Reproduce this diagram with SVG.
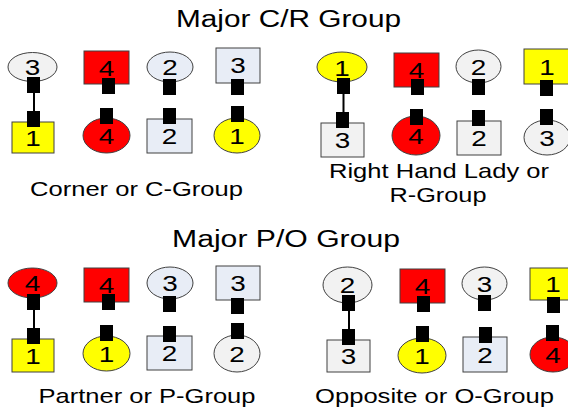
<svg xmlns="http://www.w3.org/2000/svg" xmlns:xlink="http://www.w3.org/1999/xlink" width="568" height="410" viewBox="0 0 568 410">
<style>
  .sh { stroke: #404040; stroke-width: 1; }
  .red { fill: #ff0000; }
  .yel { fill: #ffff00; }
  .gry { fill: #f2f2f2; }
  .blu { fill: #e8edf6; }
  .d { font-family: "Liberation Sans", Arial, sans-serif; font-size: 22.5px; fill: #000; text-anchor: middle; }
  .lbl { font-family: "Liberation Sans", Arial, sans-serif; font-size: 21px; fill: #000; text-anchor: middle; }
  .ttl { font-family: "Liberation Sans", Arial, sans-serif; font-size: 23.5px; fill: #000; text-anchor: middle; }
  .link { stroke: #000; stroke-width: 2; fill: none; }
</style>
<defs>
  <rect id="hand" width="13" height="16" fill="#000"/>
</defs>
<rect width="568" height="410" fill="#ffffff"/>

<text class="ttl" x="288.5" y="27" textLength="225" lengthAdjust="spacingAndGlyphs">Major C/R Group</text>
<text class="lbl" x="136.5" y="196" textLength="213" lengthAdjust="spacingAndGlyphs">Corner or C-Group</text>
<text class="lbl" x="439" y="178" textLength="220" lengthAdjust="spacingAndGlyphs">Right Hand Lady or</text>
<text class="lbl" x="438" y="202" textLength="97" lengthAdjust="spacingAndGlyphs">R-Group</text>
<text class="ttl" x="286" y="247" textLength="228" lengthAdjust="spacingAndGlyphs">Major P/O Group</text>
<text class="lbl" x="147" y="403" textLength="217" lengthAdjust="spacingAndGlyphs">Partner or P-Group</text>
<text class="lbl" x="434.5" y="403" textLength="239" lengthAdjust="spacingAndGlyphs">Opposite or O-Group</text>

<g id="connectors">
  <line class="link" x1="34" y1="92" x2="34" y2="112"/>
  <line class="link" x1="343.5" y1="93" x2="343.5" y2="113"/>
  <line class="link" x1="34" y1="309" x2="34" y2="329"/>
  <line class="link" x1="349" y1="310" x2="349" y2="330"/>
</g>

<!-- C group -->
<g id="c1-top"><ellipse class="sh gry" cx="32.5" cy="67" rx="24.5" ry="14.5"/><text class="d" x="32.5" y="75" textLength="15.5" lengthAdjust="spacingAndGlyphs">3</text><use xlink:href="#hand" x="27" y="77"/></g>
<g id="c1-bot"><rect class="sh yel" x="12" y="122" width="42" height="31"/><text class="d" x="33" y="145.5" textLength="15.5" lengthAdjust="spacingAndGlyphs">1</text><use xlink:href="#hand" x="27" y="111"/></g>
<g id="c2-top"><rect class="sh red" x="84" y="51" width="45" height="33"/><text class="d" x="106.5" y="75.5" textLength="15.5" lengthAdjust="spacingAndGlyphs">4</text><use xlink:href="#hand" x="102" y="78"/></g>
<g id="c2-bot"><ellipse class="sh red" cx="106.5" cy="135.5" rx="23.5" ry="17.5"/><text class="d" x="106.5" y="143.5" textLength="15.5" lengthAdjust="spacingAndGlyphs">4</text><use xlink:href="#hand" x="100" y="108"/></g>
<g id="c3-top"><ellipse class="sh blu" cx="170" cy="67" rx="23" ry="15"/><text class="d" x="170" y="75" textLength="15.5" lengthAdjust="spacingAndGlyphs">2</text><use xlink:href="#hand" x="163" y="79"/></g>
<g id="c3-bot"><rect class="sh blu" x="147" y="119" width="45" height="34"/><text class="d" x="169.5" y="144" textLength="15.5" lengthAdjust="spacingAndGlyphs">2</text><use xlink:href="#hand" x="163" y="108"/></g>
<g id="c4-top"><rect class="sh blu" x="216" y="48" width="44" height="35"/><text class="d" x="238" y="73" textLength="15.5" lengthAdjust="spacingAndGlyphs">3</text><use xlink:href="#hand" x="231" y="79"/></g>
<g id="c4-bot"><ellipse class="sh yel" cx="237" cy="135.5" rx="23" ry="17.5"/><text class="d" x="237" y="143.5" textLength="15.5" lengthAdjust="spacingAndGlyphs">1</text><use xlink:href="#hand" x="231" y="106"/></g>

<!-- R group -->
<g id="r1-top"><ellipse class="sh yel" cx="342" cy="67" rx="25" ry="15"/><text class="d" x="342" y="75.5" textLength="15.5" lengthAdjust="spacingAndGlyphs">1</text><use xlink:href="#hand" x="337" y="78"/></g>
<g id="r1-bot"><rect class="sh gry" x="321" y="123" width="43" height="34"/><text class="d" x="342.5" y="147.5" textLength="15.5" lengthAdjust="spacingAndGlyphs">3</text><use xlink:href="#hand" x="336" y="112"/></g>
<g id="r2-top"><rect class="sh red" x="394" y="53" width="45" height="34"/><text class="d" x="416.5" y="77.5" textLength="15.5" lengthAdjust="spacingAndGlyphs">4</text><use xlink:href="#hand" x="411" y="79"/></g>
<g id="r2-bot"><ellipse class="sh red" cx="416" cy="135.5" rx="24" ry="19.5"/><text class="d" x="416" y="144" textLength="15.5" lengthAdjust="spacingAndGlyphs">4</text><use xlink:href="#hand" x="410" y="109"/></g>
<g id="r3-top"><ellipse class="sh gry" cx="478.5" cy="66.5" rx="22.5" ry="16.5"/><text class="d" x="478.5" y="75" textLength="15.5" lengthAdjust="spacingAndGlyphs">2</text><use xlink:href="#hand" x="472" y="79"/></g>
<g id="r3-bot"><rect class="sh gry" x="457" y="121" width="44" height="34"/><text class="d" x="479" y="146" textLength="15.5" lengthAdjust="spacingAndGlyphs">2</text><use xlink:href="#hand" x="472" y="110"/></g>
<g id="r4-top"><rect class="sh yel" x="524" y="49" width="46" height="35"/><text class="d" x="547" y="74.5" textLength="15.5" lengthAdjust="spacingAndGlyphs">1</text><use xlink:href="#hand" x="540" y="80"/></g>
<g id="r4-bot"><ellipse class="sh gry" cx="547" cy="137.5" rx="23" ry="17.5"/><text class="d" x="547" y="146" textLength="15.5" lengthAdjust="spacingAndGlyphs">3</text><use xlink:href="#hand" x="540" y="109"/></g>

<!-- P group -->
<g id="p1-top"><ellipse class="sh red" cx="32.5" cy="283" rx="24.5" ry="15"/><text class="d" x="32.5" y="291" textLength="15.5" lengthAdjust="spacingAndGlyphs">4</text><use xlink:href="#hand" x="27" y="294"/></g>
<g id="p1-bot"><rect class="sh yel" x="12" y="339" width="42" height="33"/><text class="d" x="33" y="363.5" textLength="15.5" lengthAdjust="spacingAndGlyphs">1</text><use xlink:href="#hand" x="27" y="328"/></g>
<g id="p2-top"><rect class="sh red" x="84" y="268" width="45" height="34"/><text class="d" x="106.5" y="292.5" textLength="15.5" lengthAdjust="spacingAndGlyphs">4</text><use xlink:href="#hand" x="102" y="294"/></g>
<g id="p2-bot"><ellipse class="sh yel" cx="106.5" cy="353.5" rx="23.5" ry="17.5"/><text class="d" x="106.5" y="361.5" textLength="15.5" lengthAdjust="spacingAndGlyphs">1</text><use xlink:href="#hand" x="100" y="325"/></g>
<g id="p3-top"><ellipse class="sh blu" cx="170" cy="283" rx="23" ry="16"/><text class="d" x="170" y="291" textLength="15.5" lengthAdjust="spacingAndGlyphs">3</text><use xlink:href="#hand" x="163" y="296"/></g>
<g id="p3-bot"><rect class="sh blu" x="147" y="336" width="45" height="34"/><text class="d" x="169.5" y="361" textLength="15.5" lengthAdjust="spacingAndGlyphs">2</text><use xlink:href="#hand" x="163" y="326"/></g>
<g id="p4-top"><rect class="sh blu" x="216" y="266" width="44" height="34"/><text class="d" x="238" y="291" textLength="15.5" lengthAdjust="spacingAndGlyphs">3</text><use xlink:href="#hand" x="231" y="298"/></g>
<g id="p4-bot"><ellipse class="sh gry" cx="237" cy="353.5" rx="23" ry="18.5"/><text class="d" x="237" y="361.5" textLength="15.5" lengthAdjust="spacingAndGlyphs">2</text><use xlink:href="#hand" x="231" y="323"/></g>

<!-- O group -->
<g id="o1-top"><ellipse class="sh gry" cx="347.5" cy="285" rx="24.5" ry="18"/><text class="d" x="347.5" y="293" textLength="15.5" lengthAdjust="spacingAndGlyphs">2</text><use xlink:href="#hand" x="342" y="295"/></g>
<g id="o1-bot"><rect class="sh gry" x="327" y="340" width="43" height="32"/><text class="d" x="348.5" y="364" textLength="15.5" lengthAdjust="spacingAndGlyphs">3</text><use xlink:href="#hand" x="342" y="329"/></g>
<g id="o2-top"><rect class="sh red" x="400" y="269" width="45" height="34"/><text class="d" x="422.5" y="294" textLength="15.5" lengthAdjust="spacingAndGlyphs">4</text><use xlink:href="#hand" x="417" y="296"/></g>
<g id="o2-bot"><ellipse class="sh yel" cx="422" cy="355.5" rx="24" ry="17.5"/><text class="d" x="422" y="363.5" textLength="15.5" lengthAdjust="spacingAndGlyphs">1</text><use xlink:href="#hand" x="416" y="326"/></g>
<g id="o3-top"><ellipse class="sh gry" cx="484.5" cy="283.5" rx="22.5" ry="16.5"/><text class="d" x="484.5" y="291.5" textLength="15.5" lengthAdjust="spacingAndGlyphs">3</text><use xlink:href="#hand" x="478" y="295"/></g>
<g id="o3-bot"><rect class="sh blu" x="463" y="337" width="44" height="35"/><text class="d" x="485" y="362.5" textLength="15.5" lengthAdjust="spacingAndGlyphs">2</text><use xlink:href="#hand" x="479" y="327"/></g>
<g id="o4-top"><rect class="sh yel" x="530" y="268" width="44" height="32"/><text class="d" x="553" y="292" textLength="15.5" lengthAdjust="spacingAndGlyphs">1</text><use xlink:href="#hand" x="547" y="297"/></g>
<g id="o4-bot"><ellipse class="sh red" cx="553" cy="354.5" rx="23" ry="17.5"/><text class="d" x="553" y="362.5" textLength="15.5" lengthAdjust="spacingAndGlyphs">4</text><use xlink:href="#hand" x="546" y="325"/></g>
</svg>
